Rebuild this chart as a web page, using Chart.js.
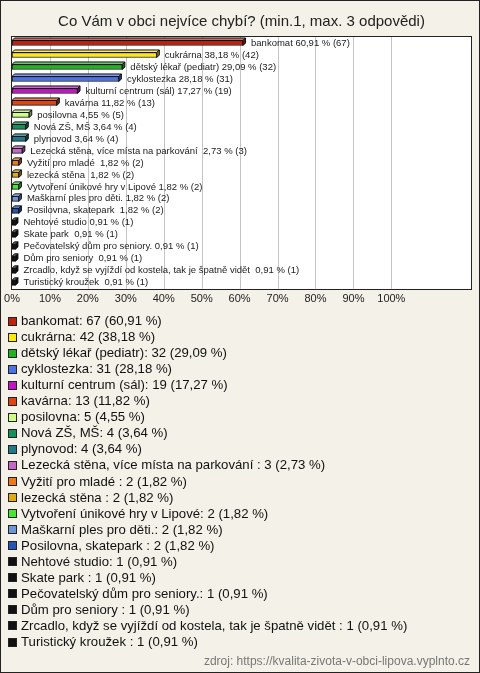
<!DOCTYPE html>
<html>
<head>
<meta charset="utf-8">
<script src="https://cdn.jsdelivr.net/npm/chart.js@4/dist/chart.umd.min.js"></script>
<style>
  html, body { margin: 0; padding: 0; }
  body { width: 480px; height: 673px; overflow: hidden; font-family: "Liberation Sans", Arial, sans-serif; }
  #frame { position: relative; width: 480px; height: 673px; box-sizing: border-box; border: 1px solid #222; background: #f3f1e8; }
  #chart { position: absolute; left: -1px; top: -1px; }
  #legend { position: absolute; left: 7px; top: 312px; width: 470px; height: 340px; }
  .item { position: absolute; left: 0; height: 16px; line-height: 16px; font-size: 13.2px; color: #111; white-space: pre; padding-left: 13px; }
  .sw { position: absolute; left: 0; top: 3.5px; width: 7px; height: 7px; border: 1px solid #222; }
  #src { position: absolute; right: 9px; top: 652px; font-size: 12px; line-height: 16px; color: #777; }
</style>
</head>
<body>
<div id="frame">
  <canvas id="chart" width="480" height="315"></canvas>
  <div id="legend"></div>
  <div id="src">zdroj: https://kvalita-zivota-v-obci-lipova.vyplnto.cz</div>
</div>
<script>
const titleText = "Co Vám v obci nejvíce chybí? (min.1, max. 3 odpovědi)";
const categories = [
  "bankomat", "cukrárna", "dětský lékař (pediatr)", "cyklostezka", "kulturní centrum (sál)",
  "kavárna", "posilovna", "Nová ZŠ, MŠ", "plynovod",
  "Lezecká stěna, více místa na parkování ", "Vyžití pro mladé ", "lezecká stěna ",
  "Vytvoření únikové hry v Lipové", "Maškarní ples pro děti.", "Posilovna, skatepark ",
  "Nehtové studio", "Skate park ", "Pečovatelský dům pro seniory.", "Dům pro seniory ",
  "Zrcadlo, když se vyjíždí od kostela, tak je špatně vidět ", "Turistický kroužek "
];
const counts = [67, 42, 32, 31, 19, 13, 5, 4, 4, 3, 2, 2, 2, 2, 2, 1, 1, 1, 1, 1, 1];
const percents = [60.91, 38.18, 29.09, 28.18, 17.27, 11.82, 4.55, 3.64, 3.64, 2.73, 1.82, 1.82, 1.82, 1.82, 1.82, 0.91, 0.91, 0.91, 0.91, 0.91, 0.91];
const colors = [
  "#c0200e", "#ffe810", "#1fb31f", "#4a73e8", "#c414c8", "#e04412", "#cdff84", "#14905a",
  "#1f7a8a", "#c865c8", "#ec7a16", "#e0aa10", "#44e830", "#6c95da", "#2456b8",
  "#111111", "#111111", "#111111", "#111111", "#111111", "#111111"
];
const tickValues = [0, 10, 20, 30, 40, 50, 60, 70, 80, 90, 100];

function fmt(v) { return v.toFixed(2).replace('.', ','); }

function shade(hex, f) {
  const n = parseInt(hex.slice(1), 16);
  let r = (n >> 16) & 255, g = (n >> 8) & 255, b = n & 255;
  if (f < 0) { r = Math.round(r * (1 + f)); g = Math.round(g * (1 + f)); b = Math.round(b * (1 + f)); }
  else { r = Math.round(r + (255 - r) * f); g = Math.round(g + (255 - g) * f); b = Math.round(b + (255 - b) * f); }
  return `rgb(${r},${g},${b})`;
}

// legend (HTML, built from arrays)
const legend = document.getElementById('legend');
categories.forEach((c, i) => {
  const d = document.createElement('div');
  d.className = 'item';
  d.style.top = (i * 16.05).toFixed(2) + 'px';
  const sw = document.createElement('span');
  sw.className = 'sw';
  sw.style.background = colors[i];
  d.appendChild(sw);
  d.appendChild(document.createTextNode(c + ': ' + counts[i] + ' (' + fmt(percents[i]) + ' %)'));
  legend.appendChild(d);
});

const areaPlugin = {
  id: 'area',
  beforeDatasetsDraw(chart) {
    const a = chart.chartArea, ctx = chart.ctx;
    ctx.save();
    ctx.fillStyle = '#ffffff';
    ctx.fillRect(a.left, a.top, a.right - a.left, a.bottom - a.top);
    const xs = chart.scales.x;
    ctx.strokeStyle = '#c4c4c4';
    ctx.lineWidth = 1;
    tickValues.forEach(v => {
      if (v === 0) return;
      const px = Math.round(xs.getPixelForValue(v)) + 0.5;
      ctx.beginPath(); ctx.moveTo(px, a.top); ctx.lineTo(px, a.bottom); ctx.stroke();
    });
    ctx.restore();
  },
  afterDatasetsDraw(chart) {
    const a = chart.chartArea, ctx = chart.ctx;
    const meta = chart.getDatasetMeta(0);
    ctx.save();
    meta.data.forEach((bar, i) => {
      const x = bar.x, base = bar.base, y = bar.y, h = bar.height;
      const top = y - h / 2, bot = y + h / 2, d = 2.5;
      ctx.beginPath();
      ctx.moveTo(base, top); ctx.lineTo(base + d, top - d); ctx.lineTo(x + d, top - d); ctx.lineTo(x, top); ctx.closePath();
      ctx.fillStyle = shade(colors[i], 0.35); ctx.fill();
      ctx.strokeStyle = '#111'; ctx.lineWidth = 1; ctx.stroke();
      ctx.beginPath();
      ctx.moveTo(x, top); ctx.lineTo(x + d, top - d); ctx.lineTo(x + d, bot - d); ctx.lineTo(x, bot); ctx.closePath();
      ctx.fillStyle = shade(colors[i], -0.45); ctx.fill();
      ctx.stroke();
      ctx.fillStyle = '#222';
      ctx.font = '9.5px "Liberation Sans", Arial, sans-serif';
      ctx.textBaseline = 'middle';
      ctx.textAlign = 'left';
      ctx.fillText(categories[i] + ' ' + fmt(percents[i]) + ' % (' + counts[i] + ')', x + 8, y);
    });
    ctx.strokeStyle = '#222';
    ctx.lineWidth = 1;
    ctx.strokeRect(Math.round(a.left) - 0.5, Math.round(a.top) - 0.5, Math.round(a.right - a.left) + 1, Math.round(a.bottom - a.top) + 1);
    ctx.restore();
  }
};

new Chart(document.getElementById('chart'), {
  type: 'bar',
  data: {
    labels: categories,
    datasets: [{
      data: percents,
      backgroundColor: colors,
      borderColor: '#111',
      borderWidth: 1,
      barThickness: 5,
      borderSkipped: false
    }]
  },
  options: {
    indexAxis: 'y',
    responsive: false,
    animation: false,
    devicePixelRatio: 1,
    layout: { padding: { left: 12, right: 9, bottom: 5, top: 0 } },
    plugins: {
      legend: { display: false },
      tooltip: { enabled: false },
      title: {
        display: true,
        text: titleText,
        color: '#222',
        font: { family: '"Liberation Sans", Arial, sans-serif', size: 15, weight: 'normal' },
        padding: { top: 13, bottom: 6 }
      }
    },
    scales: {
      x: {
        min: 0, max: 121,
        afterBuildTicks(scale) { scale.ticks = tickValues.map(v => ({ value: v })); },
        ticks: {
          callback: v => v + '%',
          color: '#222',
          font: { family: '"Liberation Sans", Arial, sans-serif', size: 11 },
          padding: 4,
          maxRotation: 0,
          autoSkip: false
        },
        grid: { display: false, drawTicks: false },
        border: { display: false }
      },
      y: { display: false }
    }
  },
  plugins: [areaPlugin]
});
</script>
</body>
</html>
